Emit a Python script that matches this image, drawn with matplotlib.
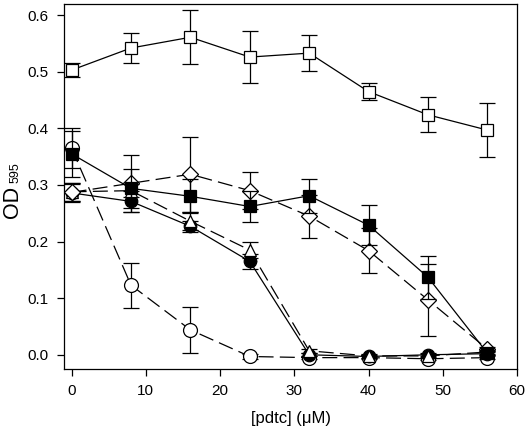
import matplotlib.pyplot as plt

# pdtc concentration (uM)
x = [0, 8, 16, 24, 32, 40, 48, 56]

open_sq = [0.503, 0.542, 0.561, 0.526, 0.533, 0.465, 0.424, 0.397]
open_sq_err = [0.013, 0.027, 0.048, 0.046, 0.032, 0.015, 0.031, 0.047]

filled_sq = [0.355, 0.294, 0.280, 0.262, 0.281, 0.229, 0.137, 0.003]
filled_sq_err = [0.040, 0.035, 0.030, 0.028, 0.030, 0.035, 0.038, 0.004]

diamond = [0.287, 0.303, 0.319, 0.290, 0.245, 0.184, 0.097, 0.010]
diamond_err = [0.016, 0.050, 0.066, 0.033, 0.038, 0.040, 0.063, 0.004]

triangle = [0.288, 0.290, 0.236, 0.185, 0.007, -0.002, -0.002, 0.005]
triangle_err = [0.016, 0.012, 0.016, 0.014, 0.003, 0.003, 0.003, 0.003]

filled_circ = [0.286, 0.271, 0.227, 0.165, 0.000, -0.003, 0.000, 0.002]
filled_circ_err = [0.016, 0.018, 0.010, 0.013, 0.003, 0.003, 0.003, 0.003]

open_circ = [0.365, 0.123, 0.044, -0.003, -0.005, -0.005, -0.007, -0.005]
open_circ_err = [0.035, 0.040, 0.041, 0.004, 0.003, 0.003, 0.003, 0.003]

plt.rcParams['font.family'] = ['Liberation Sans', 'DejaVu Sans']

fig = plt.figure(figsize=(5.26, 4.3), dpi=100)
ax = fig.add_axes([0.122, 0.142, 0.861, 0.849])

dash = (0, (12, 5))
common = dict(color='black', ecolor='black', elinewidth=0.9, capsize=5.5,
              capthick=0.9, linewidth=0.9, markeredgecolor='black',
              markeredgewidth=0.9)

ax.errorbar(x, open_circ, yerr=open_circ_err, marker='o', markersize=10,
            markerfacecolor='white', linestyle=dash, zorder=3, **common)
ax.errorbar(x, filled_circ, yerr=filled_circ_err, marker='o', markersize=9,
            markerfacecolor='black', linestyle='-', zorder=4, **common)
ax.errorbar(x, triangle, yerr=triangle_err, marker='^', markersize=9,
            markerfacecolor='white', linestyle=dash, zorder=5, **common)
ax.errorbar(x, diamond, yerr=diamond_err, marker='D', markersize=8,
            markerfacecolor='white', linestyle=dash, zorder=6, **common)
ax.errorbar(x, filled_sq, yerr=filled_sq_err, marker='s', markersize=8,
            markerfacecolor='black', linestyle='-', zorder=7, **common)
ax.errorbar(x, open_sq, yerr=open_sq_err, marker='s', markersize=9,
            markerfacecolor='white', linestyle='-', zorder=8, **common)

ax.set_xlim(-1, 60)
ax.set_ylim(-0.025, 0.62)
ax.set_xticks([0, 10, 20, 30, 40, 50, 60])
ax.set_yticks([0.0, 0.1, 0.2, 0.3, 0.4, 0.5, 0.6])
ax.set_yticklabels(['0.0', '0.1', '0.2', '0.3', '0.4', '0.5', '0.6'])
ax.tick_params(direction='out', length=5, width=0.9, labelsize=11, pad=6)
for s in ax.spines.values():
    s.set_linewidth(0.9)

ax.set_xlabel('[pdtc] (\u03bcM)', fontsize=12, labelpad=9)

# y label: OD with subscript 595, plain text pieces
fig.text(0.024, 0.492, 'OD', rotation=90, fontsize=15.5,
         ha='center', va='bottom')
fig.text(0.030, 0.575, '595', rotation=90, fontsize=9,
         ha='center', va='bottom')

plt.savefig('out.png', dpi=100)
